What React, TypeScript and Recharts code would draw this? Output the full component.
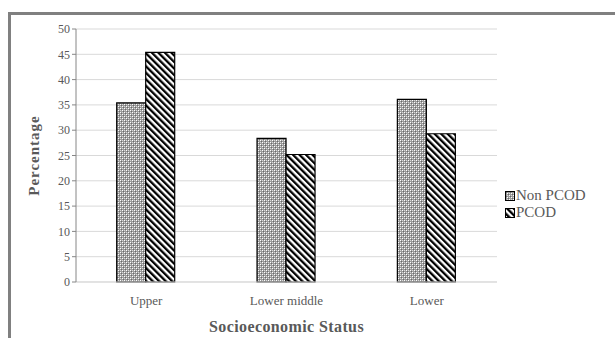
import React from 'react';
import { BarChart, Bar, XAxis, YAxis, CartesianGrid, Label } from 'recharts';

const categories = ['Upper', 'Lower middle', 'Lower'];
const nonPcod = [35.4, 28.4, 36.1];
const pcod = [45.4, 25.2, 29.3];
const yTicks = [0, 5, 10, 15, 20, 25, 30, 35, 40, 45, 50];

const data = categories.map((status, i) => ({
  status,
  nonPcod: nonPcod[i],
  pcod: pcod[i],
}));

const FONT = '"Liberation Serif", "Times New Roman", serif';
const TEXT = '#595959';

const legendItems = [
  { label: 'Non PCOD', fill: 'url(#lg-checker)' },
  { label: 'PCOD', fill: 'url(#lg-stripes)' },
];

function PatternDefs({ prefix = '' }: { prefix?: string }) {
  return (
    <defs>
      <pattern id={`${prefix}checker`} patternUnits="userSpaceOnUse" width="4" height="4">
        <rect width="4" height="4" fill="#9a9a9a" />
        <rect x="0" y="0" width="1" height="1" fill="#ffffff" />
        <rect x="2" y="2" width="1" height="1" fill="#ffffff" />
        <rect x="2" y="0" width="1" height="1" fill="#d8d8d8" />
        <rect x="0" y="2" width="1" height="1" fill="#d8d8d8" />
        <rect x="1" y="1" width="1" height="1" fill="#6a6a6a" />
        <rect x="3" y="3" width="1" height="1" fill="#6a6a6a" />
      </pattern>
      <pattern
        id={`${prefix}stripes`}
        patternUnits="userSpaceOnUse"
        width="4.6"
        height="4.6"
        patternTransform="rotate(-45)"
      >
        <rect width="4.6" height="4.6" fill="#ffffff" />
        <rect width="2.3" height="4.6" fill="#000000" />
      </pattern>
    </defs>
  );
}

// legend sits outside the chart so it doesn't eat plot space
function ChartLegend() {
  return (
    <div
      style={{
        position: 'absolute',
        left: 505,
        top: 187,
        fontFamily: FONT,
        fontSize: 15,
        color: TEXT,
      }}
    >
      {legendItems.map((item) => (
        <div key={item.label} style={{ display: 'flex', alignItems: 'center', height: 17 }}>
          <svg width={10} height={10} style={{ marginRight: 1 }}>
            <PatternDefs prefix="lg-" />
            <rect x={0.5} y={0.5} width={9} height={9} fill={item.fill} stroke="#000" strokeWidth={1} />
          </svg>
          <span>{item.label}</span>
        </div>
      ))}
    </div>
  );
}

export default function App() {
  return (
    <div style={{ position: 'fixed', left: 0, top: 0, width: 615, height: 338, background: '#fff' }}>
      <div
        style={{
          position: 'absolute',
          left: 8,
          top: 12,
          width: 607,
          height: 326,
          borderLeft: '3px solid #808080',
          borderTop: '3px solid #808080',
        }}
      />
      <BarChart
        width={615}
        height={338}
        data={data}
        margin={{ top: 29, right: 118, bottom: 6, left: 36 }}
        barCategoryGap="29%"
        barGap={0}
        style={{ position: 'absolute', left: 0, top: 0 }}
      >
        <PatternDefs />
        <CartesianGrid vertical={false} stroke="#d9d9d9" strokeWidth={1} />
        <XAxis
          dataKey="status"
          height={50}
          tickLine={false}
          axisLine={{ stroke: '#d9d9d9' }}
          tick={{ fill: TEXT, fontSize: 13, fontFamily: FONT }}
          tickMargin={8}
        >
          <Label
            value="Socioeconomic Status"
            position="insideBottom"
            offset={0}
            style={{ fill: TEXT, fontSize: 16, fontWeight: 'bold', fontFamily: FONT, letterSpacing: 0.4 }}
          />
        </XAxis>
        <YAxis
          width={40}
          domain={[0, 50]}
          ticks={yTicks}
          interval={0}
          tickSize={4}
          tickLine={{ stroke: '#868686' }}
          axisLine={{ stroke: '#868686' }}
          tick={{ fill: TEXT, fontSize: 12, fontFamily: FONT }}
        >
          <Label
            content={({ viewBox }: any) => {
              const cx = 36;
              const cy = viewBox.y + viewBox.height / 2;
              return (
                <text
                  x={cx}
                  y={cy}
                  transform={`rotate(-90, ${cx}, ${cy})`}
                  textAnchor="middle"
                  dominantBaseline="middle"
                  style={{ fill: TEXT, fontSize: 15, fontWeight: 'bold', fontFamily: FONT, letterSpacing: 1 }}
                >
                  Percentage
                </text>
              );
            }}
          />
        </YAxis>
        <Bar
          dataKey="nonPcod"
          name="Non PCOD"
          fill="url(#checker)"
          stroke="#000"
          strokeWidth={1.2}
          isAnimationActive={false}
        />
        <Bar
          dataKey="pcod"
          name="PCOD"
          fill="url(#stripes)"
          stroke="#000"
          strokeWidth={1.2}
          isAnimationActive={false}
        />
      </BarChart>
      <ChartLegend />
    </div>
  );
}
